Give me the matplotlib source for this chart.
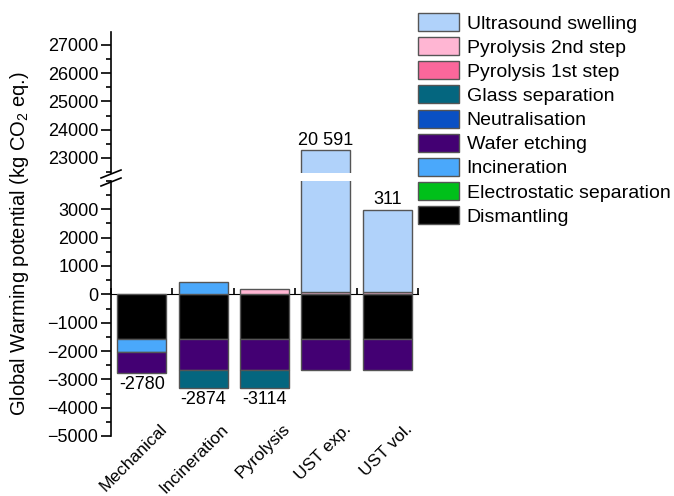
import numpy as np
import matplotlib.pyplot as plt
from matplotlib.patches import Patch
from matplotlib.transforms import ScaledTranslation

plt.rcParams['font.family'] = ['Liberation Sans', 'DejaVu Sans']
plt.rcParams['mathtext.fontset'] = 'custom'
plt.rcParams['mathtext.rm'] = 'Liberation Sans'
plt.rcParams['mathtext.default'] = 'regular'

categories = ['Mechanical', 'Incineration', 'Pyrolysis', 'UST exp.', 'UST vol.']

# process contributions per scenario, kg CO2 eq.
dismantling = [-1580, -1580, -1580, -1580, -1580]
electrostatic = [0, 0, 0, 0, 0]
incineration = [-470, 420, 0, 0, 0]
wafer_etching = [-730, -1100, -1100, -1100, -1100]
neutralisation = [0, 0, 0, 0, 0]
glass_separation = [0, -614, -614, 0, 0]
pyrolysis_1 = [0, 0, 0, 0, 0]
pyrolysis_2 = [0, 0, 180, 100, 100]
ultrasound = [0, 0, 0, 23171, 2891]

stages = [
    ('Dismantling', dismantling, '#000000'),
    ('Electrostatic separation', electrostatic, '#00c01a'),
    ('Incineration', incineration, '#4aa8fb'),
    ('Wafer etching', wafer_etching, '#430073'),
    ('Neutralisation', neutralisation, '#0a50c4'),
    ('Glass separation', glass_separation, '#04667f'),
    ('Pyrolysis 1st step', pyrolysis_1, '#fa679b'),
    ('Pyrolysis 2nd step', pyrolysis_2, '#ffb6d3'),
    ('Ultrasound swelling', ultrasound, '#b0d2fa'),
]
EDGE = '#555555'

W, H = 674, 496
fig = plt.figure(figsize=(W / 100, H / 100), dpi=100)
left, right = 111 / W, 418 / W
ax_top = fig.add_axes([left, 1 - 173 / H, right - left, (173 - 32) / H])
ax = fig.add_axes([left, 1 - 436 / H, right - left, (436 - 181) / H])

x = np.arange(len(categories))
for a in (ax_top, ax):
    pos = np.zeros(len(categories))
    neg = np.zeros(len(categories))
    for name, vals, col in stages:
        vals = np.array(vals, dtype=float)
        base = np.where(vals >= 0, pos, neg)
        m = vals != 0
        a.bar(x[m], vals[m], 0.8, bottom=base[m], color=col, edgecolor=EDGE,
              linewidth=1, zorder=2)
        pos += np.where(vals >= 0, vals, 0)
        neg += np.where(vals < 0, vals, 0)
totals = pos + neg
tops, bottoms = pos, neg

ax_top.set_yticks([23000, 24000, 25000, 26000, 27000])
ax_top.set_yticks(np.arange(22500, 27501, 500), minor=True)
ax_top.set_xticks([])
ax.set_yticks(np.arange(-5000, 3001, 1000))
ax.set_yticks(np.arange(-5000, 4001, 500), minor=True)

for a in (ax_top, ax):
    a.set_xlim(-0.5, 4.5)
    for s in ('top', 'right', 'bottom'):
        a.spines[s].set_visible(False)
    a.spines['left'].set_linewidth(1.2)
    a.tick_params(axis='y', direction='out', length=7, width=1.2, labelsize=13, pad=2)
    a.tick_params(axis='y', which='minor', direction='out', length=3.5, width=1.2)

ax_top.set_ylim(22470, 27450)
ax.set_ylim(-5000, 4000)

# category labels at the bottom
ax.set_xticks(x)
ax.set_xticklabels(categories, rotation=45, ha='right', va='center',
                   rotation_mode='anchor', fontsize=12.5)
ax.tick_params(axis='x', length=0, pad=4)
for lbl in ax.get_xticklabels():
    lbl.set_transform(lbl.get_transform() + ScaledTranslation(0.23, 0.15, fig.dpi_scale_trans))

# zero line with ticks between the bars
zero_frac = 5000 / 9000
zx = ax.secondary_xaxis(zero_frac)
zx.set_xticks(np.arange(-0.5, 4.6, 1.0))
zx.set_xticklabels([])
zx.tick_params(axis='x', direction='out', length=4, width=1.2)
zx.spines['bottom'].set_linewidth(1.2)

# net totals
for i, t in enumerate(totals):
    t = int(round(t))
    txt = f'{t:,}'.replace(',', ' ') if t >= 10000 else str(t)
    if t < 0:
        ax.text(x[i], bottoms[i] - 110, txt, ha='center', va='top', fontsize=13)
    elif tops[i] > 4000:
        ax_top.text(x[i], tops[i] + 60, txt, ha='center', va='bottom', fontsize=13)
    else:
        ax.text(x[i], tops[i] + 60, txt, ha='center', va='bottom', fontsize=13)

# break marks on the y axis
for y0 in (178, 186):
    fig.add_artist(plt.Line2D([101 / W, 121 / W], [1 - y0 / H, 1 - (y0 - 8) / H],
                              color='black', linewidth=1.2))

fig.text(20 / W, 1 - 244 / H, 'Global Warming potential (kg CO$_2$ eq.)',
         rotation=90, ha='center', va='center', fontsize=14.5)

handles = [Patch(facecolor=col, edgecolor=EDGE, linewidth=1) for _, _, col in stages[::-1]]
labels = [name for name, _, _ in stages[::-1]]
fig.legend(handles, labels, loc='upper left', bbox_to_anchor=(418 / W, 1 - 13 / H),
           frameon=False, fontsize=14, handlelength=2.1, handleheight=1.05,
           handletextpad=0.4, labelspacing=0.23, borderaxespad=0, borderpad=0)

fig.savefig('out.png', dpi=100)
